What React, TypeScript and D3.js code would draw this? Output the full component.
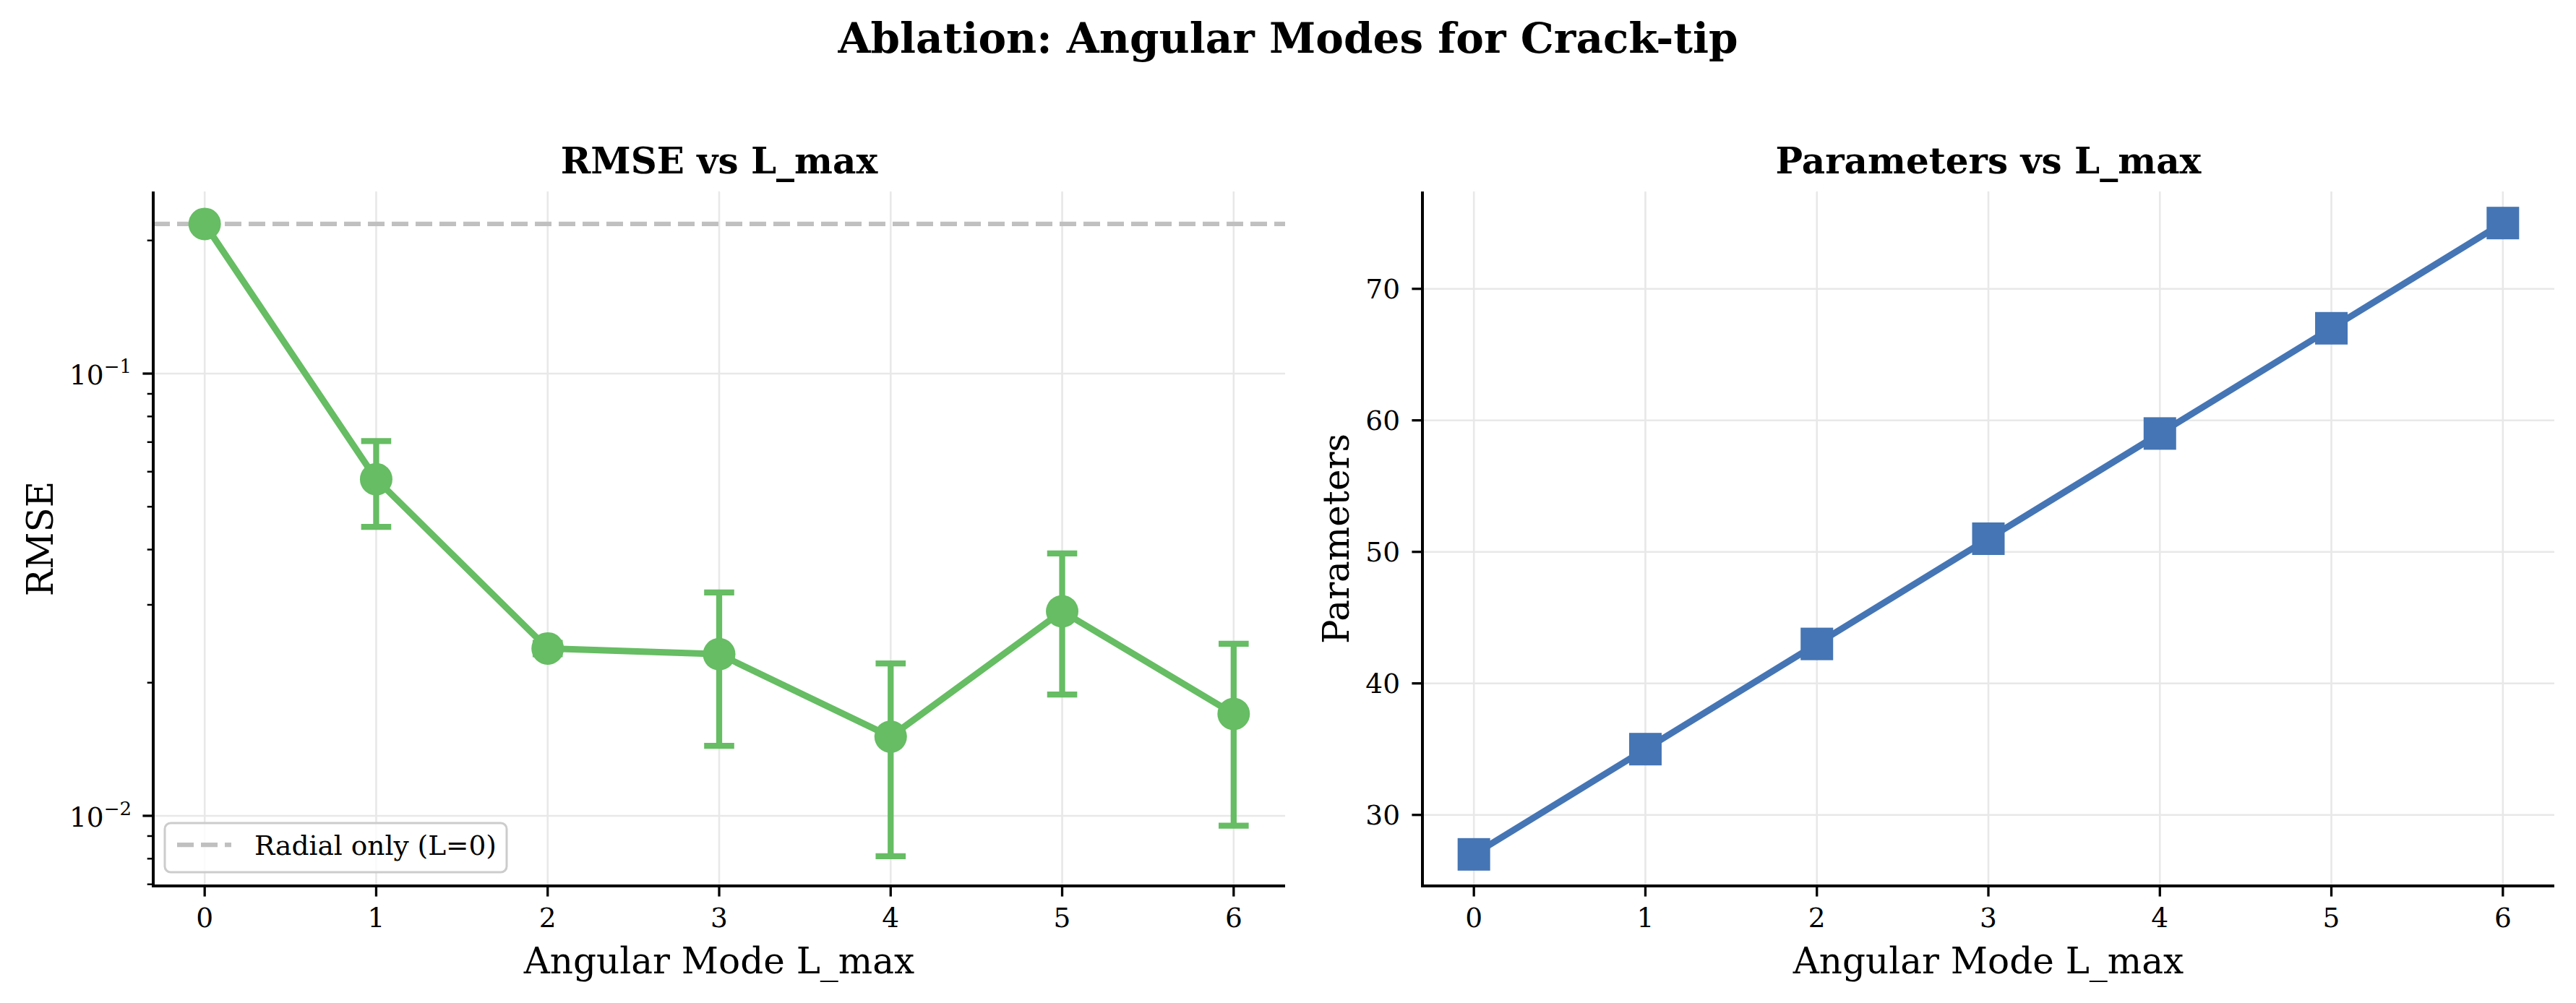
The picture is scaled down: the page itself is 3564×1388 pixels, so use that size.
import React, { useEffect } from "react";
import * as d3 from "d3";

const W = 3564;
const H = 1388;

const lmax = [0, 1, 2, 3, 4, 5, 6];
const rmseMean = [0.218, 0.0577, 0.0239, 0.0232, 0.0151, 0.029, 0.017];
const rmseStd = [0, 0.0127, 0.0007, 0.0088, 0.007, 0.0102, 0.0075];
const radialOnly = 0.218;
const paramCount = [27, 35, 43, 51, 59, 67, 75];
const xTicks = [0, 1, 2, 3, 4, 5, 6];
const paramTicks = [30, 40, 50, 60, 70];
const logMajor = [0.01, 0.1];
const logMinor = [0.007, 0.008, 0.009, 0.02, 0.03, 0.04, 0.05, 0.06, 0.07, 0.08, 0.09, 0.2];

const GREEN = "#66bd63";
const BLUE = "#4575b4";
const FONT = "'DejaVu Serif', serif";

const TOP = 265;
const BOTTOM = 1226;
const L1 = 212, R1 = 1778;
const L2 = 1968, R2 = 3534;

export default function App() {
  useEffect(() => {
    document.body.style.margin = "0";
    document.body.style.background = "#ffffff";
  }, []);

  const x1 = d3.scaleLinear().domain([-0.3, 6.3]).range([L1, R1]);
  const x2 = d3.scaleLinear().domain([-0.3, 6.3]).range([L2, R2]);
  const yLog = d3.scaleLog().domain([0.006941, 0.2581]).range([BOTTOM, TOP]);
  const yLin = d3.scaleLinear().domain([24.6, 77.4]).range([BOTTOM, TOP]);

  const line1 = d3
    .line<number>()
    .x((_, i) => x1(lmax[i]))
    .y((d) => yLog(d));
  const line2 = d3
    .line<number>()
    .x((_, i) => x2(lmax[i]))
    .y((d) => yLin(d));

  const gridColor = "#e8e8e8";
  const gridW = 2.6;
  const tickLabelSize = 37.5;
  const labelSize = 50;
  const cap = 20.8;

  return (
    <svg width={W} height={H} style={{ display: "block", background: "#fff" }} fontFamily={FONT}>
      <rect x={0} y={0} width={W} height={H} fill="#fff" />
      {/* Suptitle */}
      <text x={1782} y={73} fontSize={58} fontWeight="bold" textAnchor="middle">
        Ablation: Angular Modes for Crack-tip
      </text>

      {/* ===== Left panel ===== */}
      <g>
        {xTicks.map((t) => (
          <line key={"gx1" + t} x1={x1(t)} x2={x1(t)} y1={TOP} y2={BOTTOM} stroke={gridColor} strokeWidth={gridW} />
        ))}
        {logMajor.map((t) => (
          <line key={"gy1" + t} x1={L1} x2={R1} y1={yLog(t)} y2={yLog(t)} stroke={gridColor} strokeWidth={gridW} />
        ))}
        {/* radial-only reference */}
        <line
          x1={L1}
          x2={R1}
          y1={yLog(radialOnly)}
          y2={yLog(radialOnly)}
          stroke="#c0c0c0"
          strokeWidth={6.25}
          strokeDasharray="23 10"
        />
        {/* error bars */}
        {rmseMean.map((m, i) =>
          rmseStd[i] > 0 ? (
            <g key={"eb" + i} stroke={GREEN} strokeWidth={8.3}>
              <line x1={x1(lmax[i])} x2={x1(lmax[i])} y1={yLog(m - rmseStd[i])} y2={yLog(m + rmseStd[i])} />
              <line x1={x1(lmax[i]) - cap} x2={x1(lmax[i]) + cap} y1={yLog(m - rmseStd[i])} y2={yLog(m - rmseStd[i])} />
              <line x1={x1(lmax[i]) - cap} x2={x1(lmax[i]) + cap} y1={yLog(m + rmseStd[i])} y2={yLog(m + rmseStd[i])} />
            </g>
          ) : null
        )}
        <path d={line1(rmseMean) || ""} fill="none" stroke={GREEN} strokeWidth={9} strokeLinejoin="round" />
        {rmseMean.map((m, i) => (
          <circle key={"c" + i} cx={x1(lmax[i])} cy={yLog(m)} r={22.5} fill={GREEN} />
        ))}
        {/* spines */}
        <line x1={L1} x2={L1} y1={TOP} y2={BOTTOM + 2} stroke="#000" strokeWidth={4} />
        <line x1={L1 - 2} x2={R1} y1={BOTTOM} y2={BOTTOM} stroke="#000" strokeWidth={4} />
        {/* x ticks */}
        {xTicks.map((t) => (
          <g key={"xt1" + t}>
            <line x1={x1(t)} x2={x1(t)} y1={BOTTOM} y2={BOTTOM + 14.6} stroke="#000" strokeWidth={3.3} />
            <text x={x1(t)} y={1283} fontSize={tickLabelSize} textAnchor="middle">
              {t}
            </text>
          </g>
        ))}
        {/* y ticks log */}
        {logMajor.map((t) => {
          const exp = Math.round(Math.log10(t));
          return (
            <g key={"yt1" + t}>
              <line x1={L1 - 14.6} x2={L1} y1={yLog(t)} y2={yLog(t)} stroke="#000" strokeWidth={3.3} />
              <text x={182} y={yLog(t) + 15} fontSize={tickLabelSize} textAnchor="end">
                10
                <tspan fontSize={26} dy={-16}>
                  {"\u2212" + Math.abs(exp)}
                </tspan>
              </text>
            </g>
          );
        })}
        {logMinor.map((t) => (
          <line key={"ym1" + t} x1={L1 - 8.3} x2={L1} y1={yLog(t)} y2={yLog(t)} stroke="#000" strokeWidth={2.5} />
        ))}
        {/* legend */}
        <rect x={228} y={1139} width={473} height={68} rx={8} ry={8} fill="#fff" fillOpacity={0.8} stroke="#cccccc" strokeWidth={3} />
        <line x1={245} x2={320} y1={1169} y2={1169} stroke="#c0c0c0" strokeWidth={6.25} strokeDasharray="23 10" />
        <text x={352} y={1183} fontSize={tickLabelSize}>
          Radial only (L=0)
        </text>
        {/* titles / labels */}
        <text x={(L1 + R1) / 2} y={240} fontSize={50} fontWeight="bold" textAnchor="middle">
          RMSE vs L_max
        </text>
        <text x={(L1 + R1) / 2} y={1347} fontSize={labelSize} textAnchor="middle">
          Angular Mode L_max
        </text>
        <text transform={`translate(73,${(TOP + BOTTOM) / 2}) rotate(-90)`} fontSize={labelSize} textAnchor="middle">
          RMSE
        </text>
      </g>

      {/* ===== Right panel ===== */}
      <g>
        {xTicks.map((t) => (
          <line key={"gx2" + t} x1={x2(t)} x2={x2(t)} y1={TOP} y2={BOTTOM} stroke={gridColor} strokeWidth={gridW} />
        ))}
        {paramTicks.map((t) => (
          <line key={"gy2" + t} x1={L2} x2={R2} y1={yLin(t)} y2={yLin(t)} stroke={gridColor} strokeWidth={gridW} />
        ))}
        <path d={line2(paramCount) || ""} fill="none" stroke={BLUE} strokeWidth={9} strokeLinejoin="round" />
        {paramCount.map((p, i) => (
          <rect key={"s" + i} x={x2(lmax[i]) - 22.5} y={yLin(p) - 22.5} width={45} height={45} fill={BLUE} />
        ))}
        <line x1={L2} x2={L2} y1={TOP} y2={BOTTOM + 2} stroke="#000" strokeWidth={4} />
        <line x1={L2 - 2} x2={R2} y1={BOTTOM} y2={BOTTOM} stroke="#000" strokeWidth={4} />
        {xTicks.map((t) => (
          <g key={"xt2" + t}>
            <line x1={x2(t)} x2={x2(t)} y1={BOTTOM} y2={BOTTOM + 14.6} stroke="#000" strokeWidth={3.3} />
            <text x={x2(t)} y={1283} fontSize={tickLabelSize} textAnchor="middle">
              {t}
            </text>
          </g>
        ))}
        {paramTicks.map((t) => (
          <g key={"yt2" + t}>
            <line x1={L2 - 14.6} x2={L2} y1={yLin(t)} y2={yLin(t)} stroke="#000" strokeWidth={3.3} />
            <text x={1937} y={yLin(t) + 13.5} fontSize={tickLabelSize} textAnchor="end">
              {t}
            </text>
          </g>
        ))}
        <text x={(L2 + R2) / 2} y={240} fontSize={50} fontWeight="bold" textAnchor="middle">
          Parameters vs L_max
        </text>
        <text x={(L2 + R2) / 2} y={1347} fontSize={labelSize} textAnchor="middle">
          Angular Mode L_max
        </text>
        <text transform={`translate(1866,${(TOP + BOTTOM) / 2}) rotate(-90)`} fontSize={labelSize} textAnchor="middle">
          Parameters
        </text>
      </g>
    </svg>
  );
}
